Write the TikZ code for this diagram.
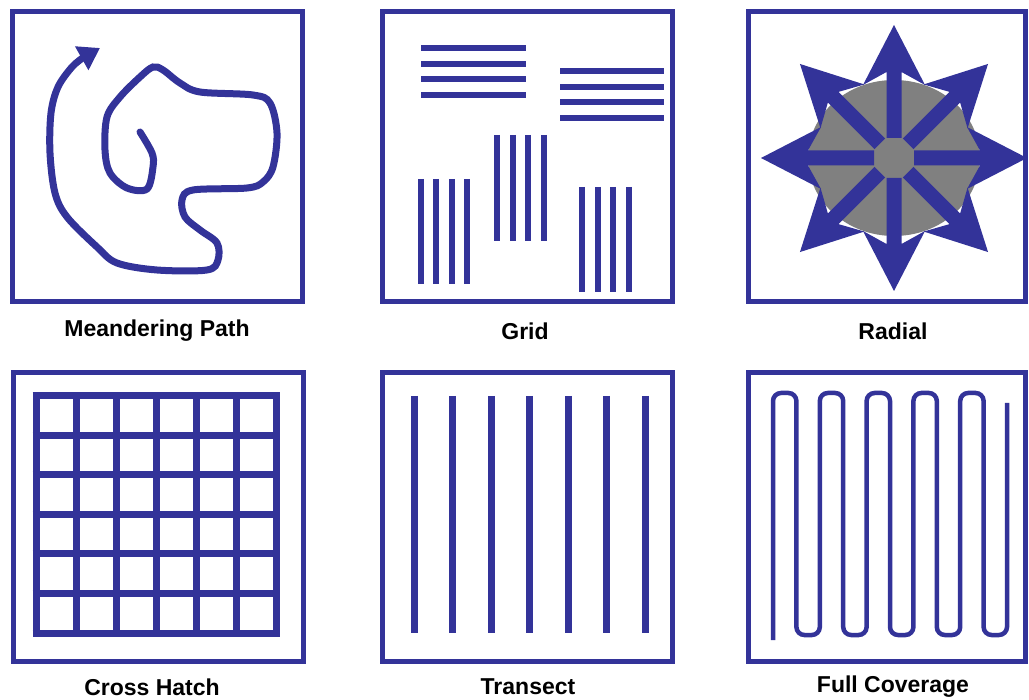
\documentclass[tikz,border=0pt]{standalone}
\usepackage{fontspec}
\setmainfont{Liberation Sans}
\usepackage{tikz}
\usetikzlibrary{arrows.meta}
\definecolor{pathblue}{RGB}{51,51,153}
\definecolor{zonegrey}{RGB}{128,128,128}

\begin{document}
\begin{tikzpicture}[x=1pt, y=-1pt,
		frame/.style={draw=pathblue, line width=5pt},
		bar/.style={draw=pathblue, line width=6pt},
		thickbar/.style={draw=pathblue, line width=7pt},
		caption/.style={font=\bfseries\fontsize{23}{27}\selectfont}]
		\useasboundingbox (0,0) rectangle (1029,700);
		% frames
		\draw[frame] (12,12) rectangle (302,302);
		\draw[frame] (382,12) rectangle (672,302);
		\draw[frame] (748,12) rectangle (1025,302);
		\draw[frame] (13,373) rectangle (303,661);
		\draw[frame] (382,373) rectangle (672,661);
		\draw[frame] (748,373) rectangle (1025,661);
		% meandering path
		\draw[pathblue, line width=7pt, line cap=round, -{Triangle[length=21pt, width=26pt]}]
			plot[smooth, tension=0.55] coordinates {(140,132) (152,153) (153,167) (147,189) (127,188) (110,173) (105,150) (107,117) (120,97) (140,77) (153,67) (163,70) (180,83) (200,92) (253,95) (270,103) (277,133) (273,167) (263,182) (247,188) (193,190) (182,200) (185,217) (200,230) (217,243) (218,260) (207,270) (157,270) (117,263) (97,247) (67,217) (55,193) (50,153) (51,113) (58,87) (72,67) (84,57)} -- (100,48);
		% grid
		\foreach \i in {0,...,3} {
			\draw[bar] (421,{48.5+15.5*\i}) -- (526,{48.5+15.5*\i});
			\draw[bar] (560,{71+15.6*\i}) -- (664,{71+15.6*\i});
			\draw[bar] ({421+15.3*\i},179) -- ({421+15.3*\i},284);
			\draw[bar] ({497+15.7*\i},135) -- ({497+15.7*\i},241);
			\draw[bar] ({582+15.7*\i},187) -- ({582+15.7*\i},292);
		}
		% radial
		\fill[zonegrey] (894,158) ellipse (86 and 78);
		\foreach \a in {0,45,...,315} {
			\begin{scope}[shift={(894,158)}, rotate=\a]
				\fill[pathblue] (20,-7.5) -- (86,-7.5) -- (73,-31) -- (133,0) -- (73,31) -- (86,7.5) -- (20,7.5) -- cycle;
			\end{scope}
		}
		% cross hatch
		\foreach \i in {0,...,6} {
			\draw[thickbar] ({36+40*\i},392.5) -- ({36+40*\i},636.5);
			\draw[thickbar] (32.5,{396+39.5*\i}) -- (279.5,{396+39.5*\i});
		}
		% transect
		\foreach \i in {0,...,6}
			\draw[thickbar] ({414+38.5*\i},396) -- ({414+38.5*\i},633);
		% full coverage
		\draw[pathblue, line width=4.5pt, rounded corners=8pt]
			(773,640) -- (773,393) -- (796.4,393) -- (796.4,635) -- (819.8,635) -- (819.8,393)
			-- (843.2,393) -- (843.2,635) -- (866.6,635) -- (866.6,393) -- (890,393) -- (890,635)
			-- (913.4,635) -- (913.4,393) -- (936.8,393) -- (936.8,635) -- (960.2,635) -- (960.2,393)
			-- (983.6,393) -- (983.6,635) -- (1007,635) -- (1007,403);
		% captions
		\node[caption] (meander) at (157,331) {Meandering Path};
		\node[caption] (grid) at (525,331) {Grid};
		\node[caption] (radial) at (893,331) {Radial};
		\node[caption] (hatch) at (152,687) {Cross Hatch};
		\node[caption] (transect) at (528,687) {Transect};
		\node[caption] (coverage) at (893,687) {Full Coverage};
	\end{tikzpicture}
\end{document}
